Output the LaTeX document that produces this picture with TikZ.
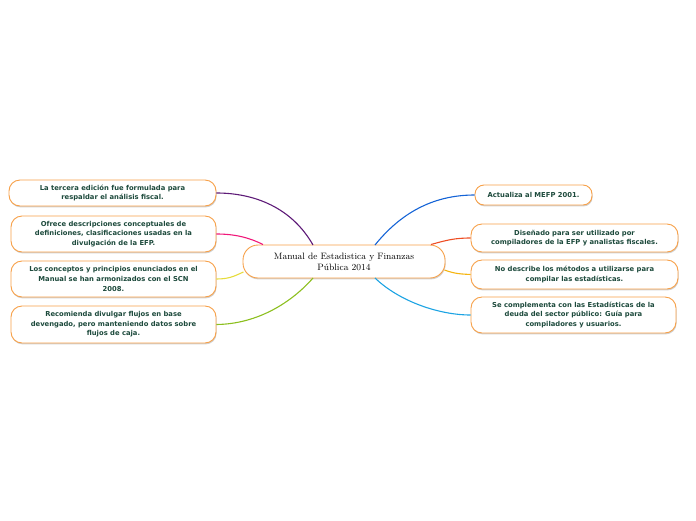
\documentclass[tikz,border=0pt]{standalone}
\usepackage{fontspec}
\newfontfamily\leaffont{DejaVu Sans}
\usetikzlibrary{shadows}
\definecolor{leafborder}{HTML}{F7A048}
\definecolor{leaftext}{HTML}{1D4A3C}
\definecolor{linepurple}{HTML}{5E1B78}
\definecolor{linepink}{HTML}{F0187A}
\definecolor{lineyellow}{HTML}{E6DC3C}
\definecolor{linegreen}{HTML}{8CBF1E}
\definecolor{lineblue}{HTML}{1463D6}
\definecolor{linered}{HTML}{EE4E24}
\definecolor{lineorange}{HTML}{F5B512}
\definecolor{linecyan}{HTML}{1CA3E3}
\tikzset{
	leaf/.style = {
			draw=leafborder, line width=0.9pt, fill=white, rounded corners=11pt,
			text=leaftext, align=center, inner sep=0pt,
			font=\leaffont\bfseries\fontsize{6.8}{9.6}\selectfont,
			drop shadow={shadow xshift=0.6pt, shadow yshift=-1.4pt, fill=black, opacity=0.18}
	},
	topic/.style = {
			leaf, rounded corners=15pt, text=black,
			font=\fontsize{9.2}{11}\selectfont
	},
	branch/.style = {line width=1.1pt}
}

\begin{document}
\begin{tikzpicture}[x=1pt, y=-1pt]
						\useasboundingbox (0,0) rectangle (696,520);
						% ====== Central topic ========
						\node[topic, minimum width=202pt, minimum height=33pt] (M) at (344,261.5) {Manual de Estadistica y Finanzas\\Pública 2014};
						% ====== Left leaves ========
						\node[leaf, minimum width=207pt, minimum height=26pt] (L1) at (112.5,193) {La tercera edición fue formulada para\\respaldar el análisis fiscal.};
						\node[leaf, minimum width=205pt, minimum height=36pt] (L2) at (113.5,234) {Ofrece descripciones conceptuales de\\definiciones, clasificaciones usadas en la\\divulgación de la EFP.};
						\node[leaf, minimum width=205pt, minimum height=36pt] (L3) at (113.5,279) {Los conceptos y principios enunciados en el\\Manual se han armonizados con el SCN\\2008.};
						\node[leaf, minimum width=205pt, minimum height=37pt] (L4) at (113.5,324.5) {Recomienda divulgar flujos en base\\devengado, pero manteniendo datos sobre\\flujos de caja.};
						% ====== Right leaves ========
						\node[leaf, minimum width=117pt, minimum height=20pt, rounded corners=9pt] (R1) at (533.5,195) {Actualiza al MEFP 2001.};
						\node[leaf, minimum width=207pt, minimum height=28pt] (R2) at (574.5,238) {Diseñado para ser utilizado por\\compiladores de la EFP y analistas fiscales.};
						\node[leaf, minimum width=207pt, minimum height=29pt] (R3) at (574.5,274.5) {No describe los métodos a utilizarse para\\compilar las estadísticas.};
						\node[leaf, minimum width=205pt, minimum height=36pt] (R4) at (573.5,315) {Se complementa con las Estadísticas de la\\deuda del sector público: Guía para\\compiladores y usuarios.};
						% ====== Branch ends on the topic ========
						\coordinate (M1) at (313,245);
						\coordinate (M2) at (263,244.5);
						\coordinate (M3) at (243.5,272);
						\coordinate (M4) at (313,278);
						\coordinate (M5) at (375,245);
						\coordinate (M6) at (431,244.5);
						\coordinate (M7) at (444.5,270);
						\coordinate (M8) at (375,278);
						% ====== Branches ========
						\draw[branch, linepurple] (L1.east) .. controls (255,193) and (292,208) .. (M1);
						\draw[branch, linepink] (L2.east) .. controls (236,234) and (250,238) .. (M2);
						\draw[branch, lineyellow] (L3.east) .. controls (231,279) and (236,275) .. (M3);
						\draw[branch, linegreen] (L4.east) .. controls (258,324) and (292,302) .. (M4);
						\draw[branch, lineblue] (M5) .. controls (400,214) and (432,195) .. (R1.west);
						\draw[branch, linered] (M6) .. controls (447,240) and (455,238) .. (R2.west);
						\draw[branch, lineorange] (M7) .. controls (455,274) and (462,274) .. (R3.west);
						\draw[branch, linecyan] (M8) .. controls (400,302) and (440,315) .. (R4.west);
					\end{tikzpicture}
\end{document}
